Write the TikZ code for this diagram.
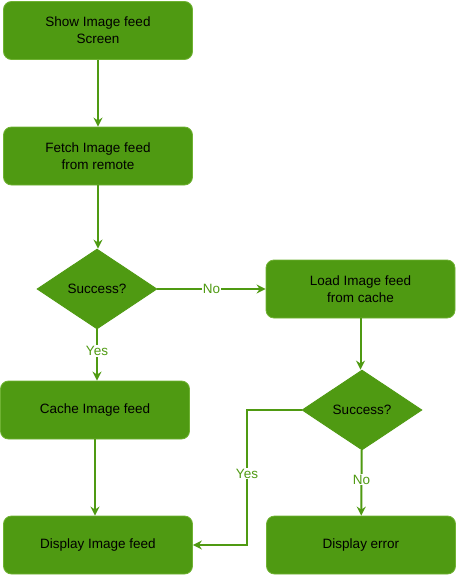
\documentclass[tikz,border=0pt]{standalone}
\usepackage{fontspec}
\setmainfont{Liberation Sans}
\usetikzlibrary{arrows.meta,shapes.geometric}
\definecolor{gfill}{HTML}{4F9A12}
\definecolor{gline}{HTML}{4F9A12}
\definecolor{gborder}{HTML}{6FB232}
\begin{document}
\begin{tikzpicture}[x=1pt,y=-1pt,
 box/.style={draw=gborder,line width=0.8pt,fill=gfill,rounded corners=8pt,minimum width=189pt,minimum height=58pt,inner sep=0pt,align=center,font=\fontsize{13.5}{17}\selectfont,text=black},
 dec/.style={diamond,draw=gfill,line width=0.8pt,fill=gfill,minimum width=120pt,minimum height=80pt,inner sep=0pt,font=\fontsize{13.5}{17}\selectfont,text=black},
 conn/.style={draw=gline,line width=2pt,-{Stealth[length=9pt,width=9pt,inset=3pt]}},
 lbl/.style={fill=white,text=gline,font=\fontsize{13.5}{16}\selectfont,inner sep=1pt}]
\useasboundingbox (0,0) rectangle (456,575);
\node[box] (show) at (98,30.5) {Show Image feed\\Screen};
\node[box] (fetch) at (98,156) {Fetch Image feed\\from remote};
\node[dec] (s1) at (97,289) {Success?};
\node[box] (load) at (360.5,289) {Load Image feed\\from cache};
\node[dec] (s2) at (362,410) {Success?};
\node[box] (cache) at (95,410) {Cache Image feed};
\node[box] (disp) at (98,545) {Display Image feed};
\node[box] (err) at (361,545) {Display error};
\coordinate (bend) at (247,0);
\draw[conn] (show) -- (fetch);
\draw[conn] (fetch.south) -- (fetch.south |- s1.north);
\draw[conn] (s1) -- node[lbl]{No} (load);
\draw[conn] (s1.south) -- node[lbl,pos=0.42]{Yes} (s1.south |- cache.north);
\draw[conn] (cache) -- (cache |- disp.north);
\draw[conn] (load.south) -- (load.south |- s2.north);
\draw[conn] (s2) -- node[lbl,pos=0.45]{No} (err);
\draw[conn] (s2.west) -- (s2.west -| bend) -- node[lbl,pos=0.47]{Yes} (bend |- disp) -- (disp.east);
\end{tikzpicture}
\end{document}
